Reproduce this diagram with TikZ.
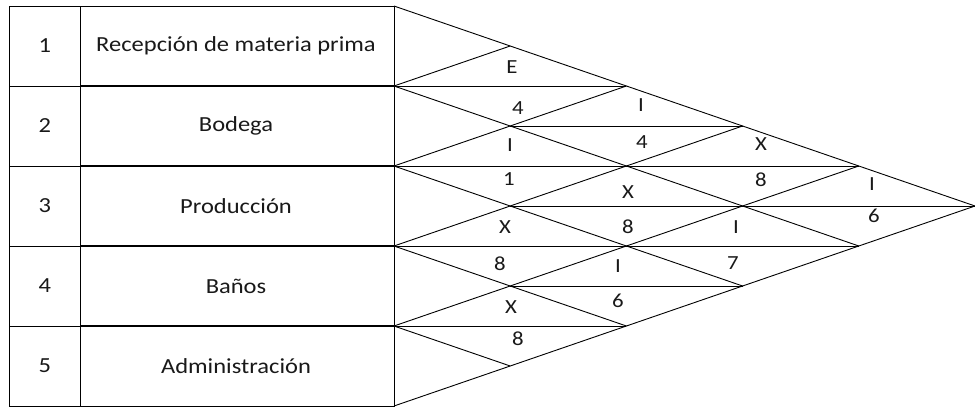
\documentclass[tikz,border=0pt]{standalone}
\usepackage{fontspec}
\setmainfont{Carlito}[FakeStretch=1.14]
\begin{document}
\begin{tikzpicture}[x=1pt,y=-1pt,line width=0.9pt,line join=miter,
  cell/.style={font=\fontsize{21.5}{25}\selectfont,inner sep=0pt,anchor=center,text=black!90},
  lab/.style={font=\fontsize{20}{23}\selectfont,inner sep=0pt,anchor=center,text=black!90},
  rowline/.style={line width=1.5pt},
  thinline/.style={line width=0.9pt}]
\useasboundingbox (0,0) rectangle (975,407);
\def\dd{116.2}
% lattice coordinates
\foreach \j in {0,...,5} \coordinate (L\j) at (394,6+80*\j);
\foreach \j in {1,...,5} \coordinate (U\j) at (394+\dd*\j,6+40*\j);
\foreach \j in {0,...,4} \coordinate (D\j) at (394+\dd*5-\dd*\j,206+40*\j);
% table
\draw[thinline] (9,6) rectangle (394,406);
\draw[thinline] (80.7,6) -- (80.7,406);
\foreach \j in {1,...,4} {
  \draw[thinline] (9,6+80*\j) -- (80.7,6+80*\j);
  \draw[rowline] (80.7,6+80*\j) -- (L\j);
}
% triangle diagonals
\foreach \j in {1,...,5} \draw[thinline] (L\j) -- (U\j);
\foreach \j in {0,...,4} \draw[thinline] (L\j) -- (D\j);
% horizontal splits
\coordinate (h1a) at (394+\dd*2,86);
\coordinate (h2a) at (394+\dd,126);   \coordinate (h2b) at (394+\dd*3,126);
\coordinate (h3a) at (394+\dd*4,166);
\coordinate (h4a) at (394+\dd,206);
\coordinate (h5a) at (394+\dd*4,246);
\coordinate (h6a) at (394+\dd,286);   \coordinate (h6b) at (394+\dd*3,286);
\coordinate (h7a) at (394+\dd*2,326);
\draw[thinline] (L1) -- (h1a);
\draw[thinline] (h2a) -- (h2b);
\draw[thinline] (L2) -- (h3a);
\draw[thinline] (h4a) -- (U5);
\draw[thinline] (L3) -- (h5a);
\draw[thinline] (h6a) -- (h6b);
\draw[thinline] (L4) -- (h7a);
% table texts
\node[cell] (n1) at (44.8,46) {1};
\node[cell] (n2) at (44.8,126) {2};
\node[cell] (n3) at (44.8,206) {3};
\node[cell] (n4) at (44.8,286) {4};
\node[cell] (n5) at (44.8,366) {5};
\node[cell] (a1) at (236,46) {Recepción de materia prima};
\node[cell] (a2) at (236,126) {Bodega};
\node[cell] (a3) at (236,206) {Producción};
\node[cell] (a4) at (236,286) {Baños};
\node[cell] (a5) at (236,366) {Administración};
% relationship labels
\node[lab] (r12) at (512,67) {E};  \node[lab] (c12) at (518,108) {4};
\node[lab] (r23) at (510,145) {I};  \node[lab] (c23) at (509,179) {1};
\node[lab] (r34) at (505,227) {X};  \node[lab] (c34) at (500,264) {8};
\node[lab] (r45) at (511,307) {X};  \node[lab] (c45) at (518,339) {8};
\node[lab] (r13) at (641,105) {I};  \node[lab] (c13) at (642,142) {4};
\node[lab] (r24) at (628,192) {X};  \node[lab] (c24) at (628,227) {8};
\node[lab] (r35) at (618,266) {I};  \node[lab] (c35) at (618,301) {6};
\node[lab] (r14) at (761,144) {X};  \node[lab] (c14) at (761,180) {8};
\node[lab] (r25) at (736,227) {I};  \node[lab] (c25) at (733,263) {7};
\node[lab] (r15) at (872,184) {I};  \node[lab] (c15) at (874,216) {6};
\end{tikzpicture}
\end{document}
